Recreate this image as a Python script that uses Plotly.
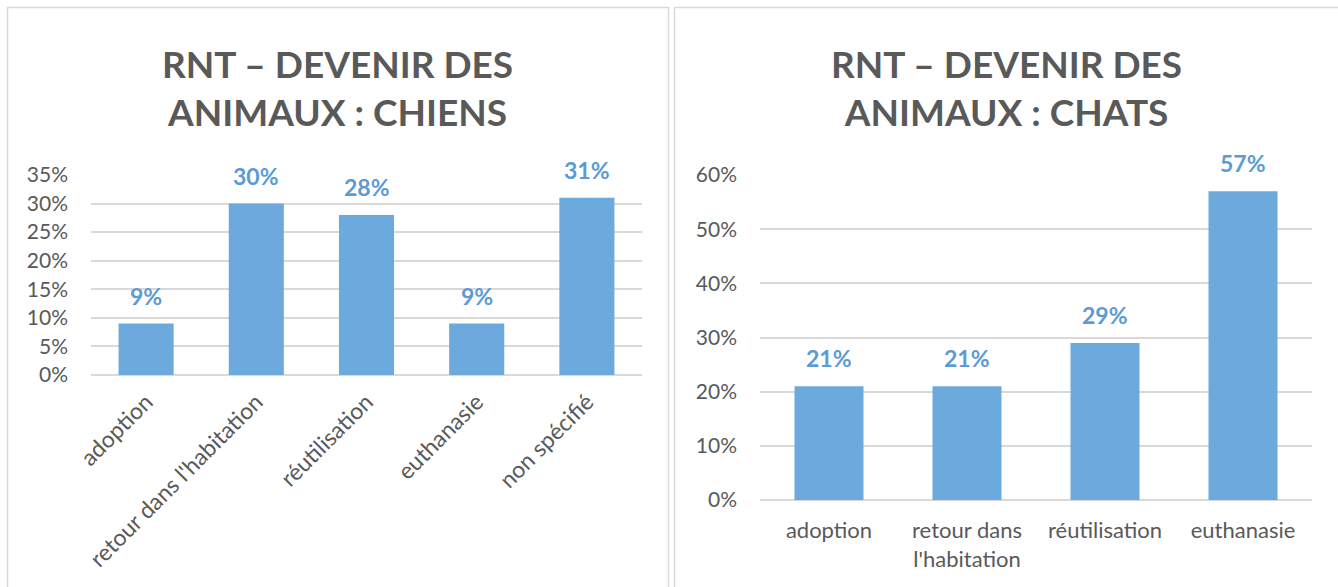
import plotly.graph_objects as go

# ---- data ----
dog_categories = ["adoption", "retour dans l'habitation", "réutilisation", "euthanasie", "non spécifié"]
dog_values = [0.09, 0.30, 0.28, 0.09, 0.31]
dog_labels = ["9%", "30%", "28%", "9%", "31%"]

cat_categories = ["adoption", "retour dans<br>l'habitation", "réutilisation", "euthanasie"]
cat_values = [0.21, 0.21, 0.29, 0.57]
cat_labels = ["21%", "21%", "29%", "57%"]

title_dogs = "RNT – DEVENIR DES<br>ANIMAUX : CHIENS"
title_cats = "RNT – DEVENIR DES<br>ANIMAUX : CHATS"

W, H = 1338, 587
BAR = "#6CAADD"
LBL = "#5B9BD5"
GRAY = "#595959"
GRID = "#D9D9D9"
FONT = "Lato"

def px(x):
    return x / W

def py(y):
    return (H - y) / H

fig = go.Figure()
fig.add_trace(go.Bar(x=dog_categories, y=dog_values, marker_color=BAR, width=0.5,
                     xaxis="x", yaxis="y", hoverinfo="skip"))
fig.add_trace(go.Bar(x=cat_categories, y=cat_values, marker_color=BAR, width=0.5,
                     xaxis="x2", yaxis="y2", hoverinfo="skip"))

annotations = []
for c, v, t in zip(dog_categories, dog_values, dog_labels):
    annotations.append(dict(x=c, y=v, xref="x", yref="y", text=t, showarrow=False,
                            yanchor="bottom", yshift=12,
                            font=dict(family=FONT, size=23, color=LBL, weight="bold")))
for c, v, t in zip(cat_categories, cat_values, cat_labels):
    annotations.append(dict(x=c, y=v, xref="x2", yref="y2", text=t, showarrow=False,
                            yanchor="bottom", yshift=12,
                            font=dict(family=FONT, size=23, color=LBL, weight="bold")))
annotations.append(dict(x=px(337.5), y=py(87), xref="paper", yref="paper", text=title_dogs,
                        showarrow=False, xanchor="center", yanchor="middle",
                        font=dict(family=FONT, size=37, color=GRAY, weight="bold")))
annotations.append(dict(x=px(1006), y=py(87), xref="paper", yref="paper", text=title_cats,
                        showarrow=False, xanchor="center", yanchor="middle",
                        font=dict(family=FONT, size=37, color=GRAY, weight="bold")))

shapes = [
    dict(type="rect", xref="paper", yref="paper", x0=px(7.5), x1=px(668.5), y0=py(600), y1=py(7.5),
         line=dict(color=GRID, width=1.5), fillcolor="rgba(0,0,0,0)"),
    dict(type="rect", xref="paper", yref="paper", x0=px(674.5), x1=px(1345), y0=py(600), y1=py(7.5),
         line=dict(color=GRID, width=1.5), fillcolor="rgba(0,0,0,0)"),
]

tickfont = dict(family=FONT, size=21, color=GRAY)

fig.update_layout(
    template="none",
    width=W, height=H,
    margin=dict(l=0, r=0, t=0, b=0, pad=0),
    paper_bgcolor="white", plot_bgcolor="white",
    showlegend=False,
    bargap=0.5,
    annotations=annotations,
    shapes=shapes,
    xaxis=dict(domain=[px(91), px(642)], tickangle=-45,
               tickfont=dict(family=FONT, size=23, color=GRAY), automargin=False,
               showgrid=False, showline=False, ticks="", anchor="y",
               ticklabelstandoff=8),
    yaxis=dict(domain=[py(375), py(175)], range=[0, 0.35], dtick=0.05, tickformat=".0%",
               tickfont=tickfont, gridcolor=GRID, gridwidth=1.5, zeroline=True, automargin=False,
               zerolinecolor=GRID, zerolinewidth=1.5, showline=False, ticks="",
               anchor="x", ticklabelstandoff=22),
    xaxis2=dict(domain=[px(760), px(1312)], tickangle=0,
                tickfont=dict(family=FONT, size=22, color=GRAY), automargin=False,
                showgrid=False, showline=False, ticks="", anchor="y2",
                ticklabelstandoff=15),
    yaxis2=dict(domain=[py(500), py(175)], range=[0, 0.6], dtick=0.1, tickformat=".0%",
                tickfont=tickfont, gridcolor=GRID, gridwidth=1.5, zeroline=True, automargin=False,
                zerolinecolor=GRID, zerolinewidth=1.5, showline=False, ticks="",
                anchor="x2", ticklabelstandoff=22),
)

fig.write_html("out.html", config={"displayModeBar": False},
               post_script="document.body.style.margin='0';document.body.style.overflow='hidden';")
